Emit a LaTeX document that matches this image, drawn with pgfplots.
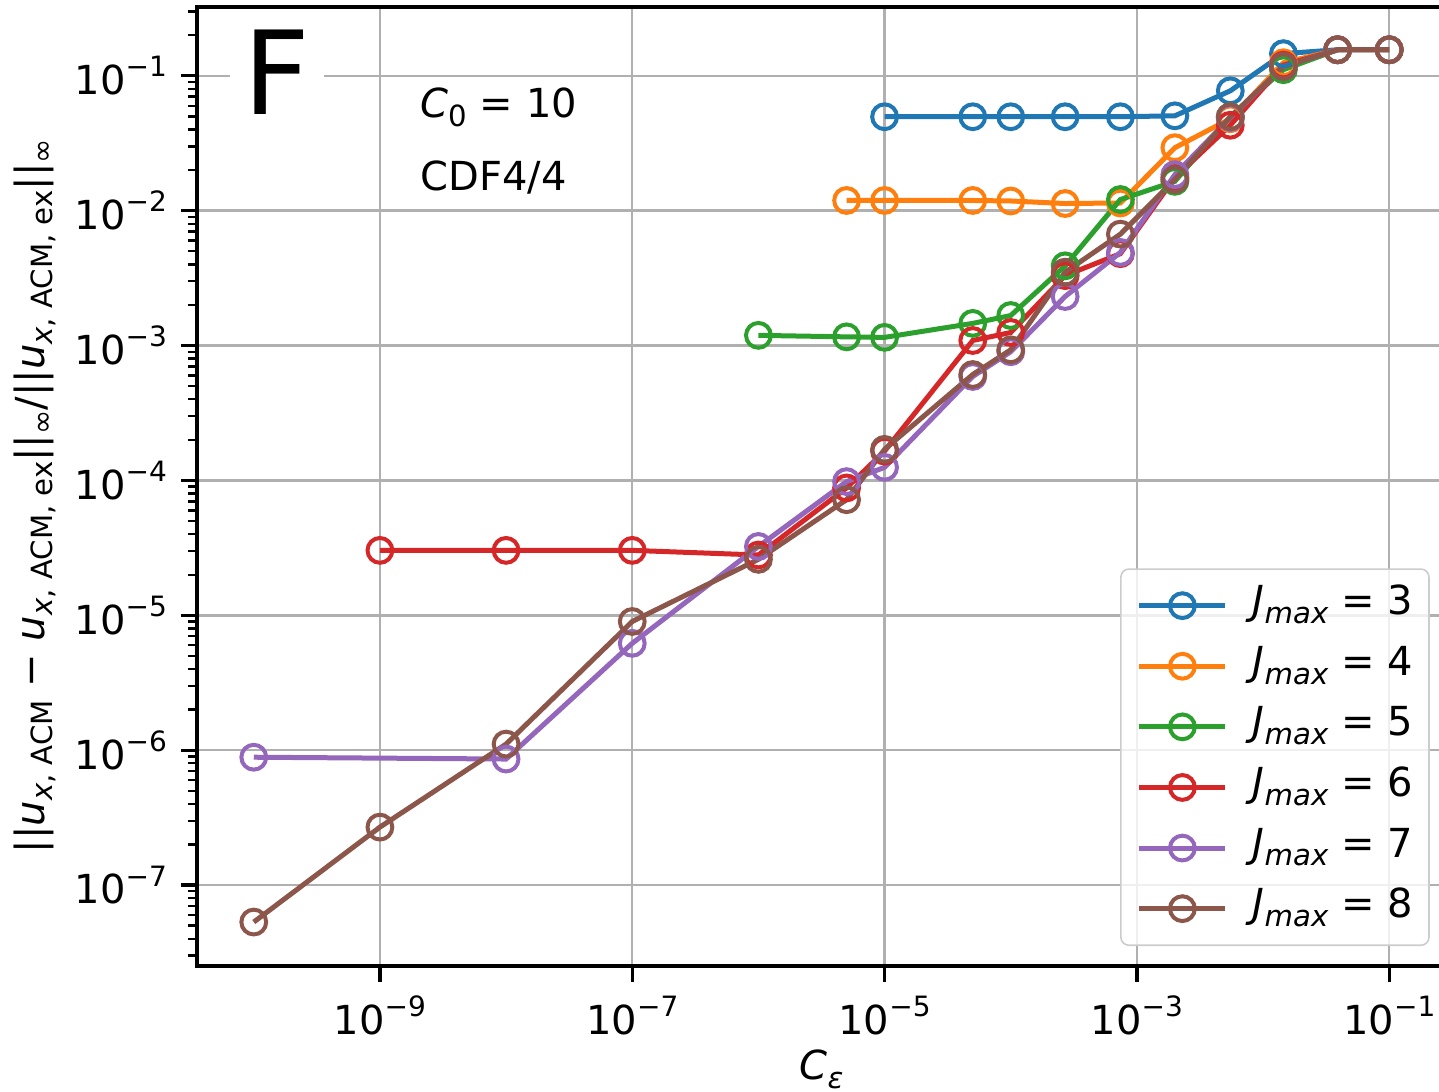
\documentclass[border=0pt]{standalone}
\usepackage{fontspec}
\setmainfont{DejaVu Sans}
\usepackage{pgfplots}
\pgfplotsset{compat=1.18}
\definecolor{c0}{HTML}{1F77B4}
\definecolor{c1}{HTML}{FF7F0E}
\definecolor{c2}{HTML}{2CA02C}
\definecolor{c3}{HTML}{D62728}
\definecolor{c4}{HTML}{9467BD}
\definecolor{c5}{HTML}{8C564B}
\definecolor{gridc}{HTML}{B0B0B0}
\newcommand{\sps}[1]{\raisebox{0.45em}{\fontsize{7}{7}\selectfont #1}}
\newcommand{\sbs}[1]{\raisebox{-0.22em}{\fontsize{7.3}{7}\selectfont #1}}
\begin{document}
\begin{tikzpicture}
\path[use as bounding box] (-49.25pt,-31.5pt) rectangle (310.5pt,241.5pt);
\begin{axis}[
  at={(0pt,0pt)}, anchor=south west,
  scale only axis, width=312.25pt, height=239.75pt,
  xmode=log, ymode=log,
  xmin=3.548e-11, xmax=0.2818,
  ymin=2.512e-8, ymax=0.3236,
  xtick={1e-9,1e-7,1e-5,1e-3,1e-1},
  xticklabels={10\sps{−9},10\sps{−7},10\sps{−5},10\sps{−3},10\sps{−1}},
  minor xtick={},
  ytick={1e-7,1e-6,1e-5,1e-4,1e-3,1e-2,1e-1},
  yticklabels={10\sps{−7},10\sps{−6},10\sps{−5},10\sps{−4},10\sps{−3},10\sps{−2},10\sps{−1}},
  minor ytick={3e-8,4e-8,5e-8,6e-8,7e-8,8e-8,9e-8,
    2e-7,3e-7,4e-7,5e-7,6e-7,7e-7,8e-7,9e-7,
    2e-6,3e-6,4e-6,5e-6,6e-6,7e-6,8e-6,9e-6,
    2e-5,3e-5,4e-5,5e-5,6e-5,7e-5,8e-5,9e-5,
    2e-4,3e-4,4e-4,5e-4,6e-4,7e-4,8e-4,9e-4,
    2e-3,3e-3,4e-3,5e-3,6e-3,7e-3,8e-3,9e-3,
    2e-2,3e-2,4e-2,5e-2,6e-2,7e-2,8e-2,9e-2,
    2e-1,3e-1},
  tick pos=left,
  tick align=outside,
  major tick length=4pt,
  minor tick length=2.3pt,
  every major tick/.append style={line width=0.8pt, black},
  every minor tick/.append style={line width=0.6pt, black},
  ticklabel style={font=\fontsize{10}{12}\selectfont},
  grid=major,
  major grid style={gridc, line width=0.6pt},
  axis line style={line width=0.8pt},
  xlabel={\textit{C}\sbs{\textit{ε}}},
  xlabel style={font=\fontsize{10}{12}\selectfont, at={(axis description cs:0.5,0)}, anchor=center, yshift=-25.75pt},
  ylabel={||\textit{u}\sbs{\textit{x}, ACM} − \textit{u}\sbs{\textit{x}, ACM, ex}||\sbs{∞}/||\textit{u}\sbs{\textit{x}, ACM, ex}||\sbs{∞}},
  ylabel style={font=\fontsize{10}{12}\selectfont, at={(axis description cs:-0.1297,0.49)}, anchor=center, rotate=0},
  every axis plot/.append style={line width=1.25pt, mark=o, mark size=3.1pt, mark options={line width=1pt, solid}},
  legend cell align=left,
  legend image code/.code={\draw[mark repeat=2,mark phase=2,#1] plot coordinates {(0pt,0pt) (10.75pt,0pt) (21.5pt,0pt)};},
  legend style={at={(rel axis cs:0.987,0.0208)}, anchor=south east,
    draw=black!20, rounded corners=2pt, fill=white, fill opacity=0.8, text opacity=1,
    font=\fontsize{10}{12}\selectfont, inner xsep=4pt, inner ysep=4.4pt,
    row sep=5.65pt, column sep=6.25pt,
    nodes={inner sep=0pt, text height=7pt, text depth=2.5pt}},
]
\addplot[c0] coordinates {(1e-5,0.0497)(5e-5,0.0497)(1e-4,0.0497)(2.7e-4,0.0497)(7.4e-4,0.0497)(2e-3,0.0505)(5.5e-3,0.0774)(1.45e-2,0.146)(3.9e-2,0.156)(1e-1,0.156)};
\addlegendentry{\textit{J}\sbs{\textit{max}} = 3}
\addplot[c1] coordinates {(5e-6,0.0119)(1e-5,0.0119)(5e-5,0.0119)(1e-4,0.0118)(2.7e-4,0.0113)(7.4e-4,0.0114)(2e-3,0.0293)(5.5e-3,0.048)(1.45e-2,0.125)(3.9e-2,0.156)(1e-1,0.156)};
\addlegendentry{\textit{J}\sbs{\textit{max}} = 4}
\addplot[c2] coordinates {(1e-6,0.00119)(5e-6,0.00116)(1e-5,0.00115)(5e-5,0.00146)(1e-4,0.00167)(2.7e-4,0.0039)(7.4e-4,0.0121)(2e-3,0.0165)(5.5e-3,0.0497)(1.45e-2,0.111)(3.9e-2,0.156)(1e-1,0.156)};
\addlegendentry{\textit{J}\sbs{\textit{max}} = 5}
\addplot[c3] coordinates {(1e-9,3.03e-5)(1e-8,3.03e-5)(1e-7,3.03e-5)(1e-6,2.8e-5)(5e-6,8.8e-5)(1e-5,1.65e-4)(5e-5,1.09e-3)(1e-4,1.25e-3)(2.7e-4,3.3e-3)(7.4e-4,4.8e-3)(2e-3,0.0176)(5.5e-3,0.043)(1.45e-2,0.12)(3.9e-2,0.156)(1e-1,0.156)};
\addlegendentry{\textit{J}\sbs{\textit{max}} = 6}
\addplot[c4] coordinates {(1e-10,8.87e-7)(1e-8,8.6e-7)(1e-7,6.2e-6)(1e-6,3.24e-5)(5e-6,9.8e-5)(1e-5,1.25e-4)(5e-5,5.9e-4)(1e-4,9.0e-4)(2.7e-4,2.31e-3)(7.4e-4,4.9e-3)(2e-3,0.0185)(5.5e-3,0.049)(1.45e-2,0.117)(3.9e-2,0.156)(1e-1,0.156)};
\addlegendentry{\textit{J}\sbs{\textit{max}} = 7}
\addplot[c5] coordinates {(1e-10,5.32e-8)(1e-9,2.69e-7)(1e-8,1.11e-6)(1e-7,9.0e-6)(1e-6,2.6e-5)(5e-6,7.2e-5)(1e-5,1.7e-4)(5e-5,6.1e-4)(1e-4,9.3e-4)(2.7e-4,3.5e-3)(7.4e-4,6.7e-3)(2e-3,0.017)(5.5e-3,0.0497)(1.45e-2,0.117)(3.9e-2,0.156)(1e-1,0.156)};
\addlegendentry{\textit{J}\sbs{\textit{max}} = 8}
\node[font=\fontsize{29}{30}\selectfont, fill=white, inner xsep=3.5pt, inner ysep=2pt, anchor=center] at (rel axis cs:0.064,0.932) {F};
\node[font=\fontsize{10}{12}\selectfont, anchor=west, inner sep=0pt] at (rel axis cs:0.1785,0.895) {\textit{C}\sbs{0} = 10};
\node[font=\fontsize{10}{12}\selectfont, anchor=west, inner sep=0pt] at (rel axis cs:0.1785,0.822) {CDF4/4};
\end{axis}
\end{tikzpicture}
\end{document}
